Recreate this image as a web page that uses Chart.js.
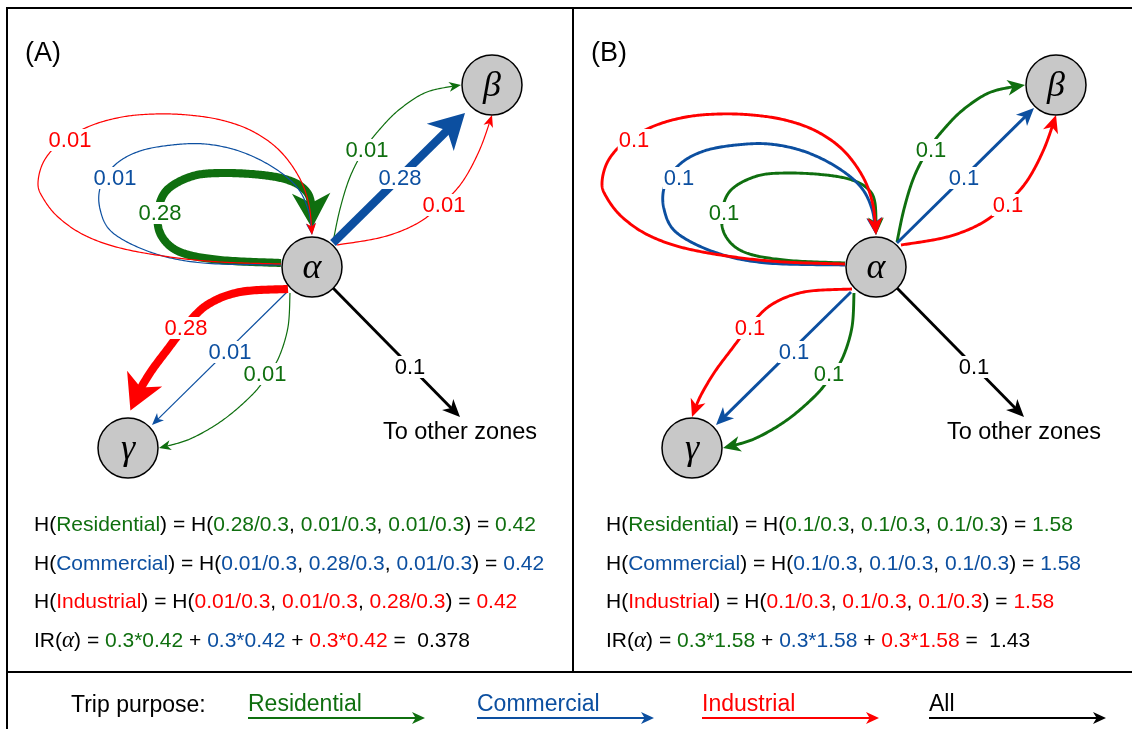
<!DOCTYPE html>
<html>
<head>
<meta charset="utf-8">
<script src="https://cdn.jsdelivr.net/npm/chart.js@4.4.1/dist/chart.umd.min.js"></script>
<style>
  html, body { margin: 0; padding: 0; background: #fff; overflow: hidden; }
  canvas { display: block; }
</style>
</head>
<body>
<canvas id="c" width="1132" height="729"></canvas>
<script>
// ---- data -------------------------------------------------------------
const zones = ['α', 'β', 'γ'];
const purposes = ['Residential', 'Commercial', 'Industrial'];
const panelTitles = ['(A)', '(B)'];

// Trip shares leaving zone α for each purpose, to [α, β, γ]
const residentialA = [0.28, 0.01, 0.01];
const commercialA  = [0.01, 0.28, 0.01];
const industrialA  = [0.01, 0.01, 0.28];
const residentialB = [0.1, 0.1, 0.1];
const commercialB  = [0.1, 0.1, 0.1];
const industrialB  = [0.1, 0.1, 0.1];
// Share of all trips leaving α for zones outside the system
const otherZones = [0.1, 0.1];

const flows = [[residentialA, commercialA, industrialA], [residentialB, commercialB, industrialB]];

// ---- styling / layout ---------------------------------------------------
const purposeColors = ['#0f6f0f', '#0c4fa0', '#ff0000'];
const FONT = '"Liberation Sans", Arial, Helvetica, sans-serif';

// zone centres (α, β, γ) for each panel, in canvas units
const nodeX = [312, 492, 128, 876, 1056, 692];
const nodeY = [267, 85, 448, 267, 85, 448];
const nodeR = 30;

// edge routes, relative to the centre of α; index: destination zone, then purpose
const routes = [
  [ // α -> α
    [[-31,-4],[-92,-7],[-132,-15],[-151,-32],[-154,-55],[-145,-77],[-119,-91],[-88,-94],[-50,-92],[-24,-87],[-8,-78],[-1,-64],[0,-32]],
    [[-31,-2],[-109,-4],[-159,-14],[-199,-34],[-212,-58],[-211,-82],[-196,-103],[-172,-116],[-140,-122],[-107,-123],[-73,-116],[-41,-101],[-16,-81],[-4,-58],[0,-32]],
    [[-31,-3],[-92,-5],[-142,-10],[-192,-19],[-228,-32],[-254,-50],[-269,-69],[-274,-84],[-268,-106],[-251,-125],[-222,-141],[-190,-150],[-157,-153],[-124,-152],[-91,-147],[-60,-136],[-33,-117],[-13,-90],[-3,-62],[0,-32]]
  ],
  [ // α -> β
    [[21,-25],[28,-58],[38,-90],[52,-117],[68,-138],[88,-158],[115,-175],[149,-182]],
    [[21,-24],[158,-159]],
    [[25,-22],[71,-30],[106,-44],[131,-64],[151,-86],[168,-118],[180,-152]]
  ],
  [ // α -> γ
    [[-22,26],[-24,60],[-33,90],[-45,109],[-60,128],[-89,153],[-122,172],[-153,181]],
    [[-25,25],[-160,158]],
    [[-24,22],[-72,25],[-105,38],[-127,60],[-145,83],[-162,106],[-176,130],[-184,150]]
  ]
];
// value label anchors, same indexing
const labelPos = [
  [[-152,-54], [-197,-89], [-242,-127]],
  [[55,-117], [88,-89], [132,-62]],
  [[-47,107], [-82,85], [-126,61]]
];
const otherRoute = [[21,21],[148,150]];
const otherLabel = [98,100];
const otherText = [148,166];

const formulaX = [34, 606];
const formulaY = [531, 570, 608, 647];
const legendX = [248, 477, 702, 929];

// ---- helpers -------------------------------------------------------------
const fmt = v => String(+v.toFixed(2));
const sum = a => a.reduce((s, v) => s + v, 0);
const entropy = row => { const s = sum(row); return -row.reduce((h, v) => h + (v / s) * Math.log2(v / s), 0); };
const widthFor = v => Math.max(1.2, 29 * v);

function sampleSpline(pts, n) {
  const out = [];
  if (pts.length === 2) return pts.slice();
  for (let i = 0; i < pts.length - 1; i++) {
    const p0 = pts[i - 1] || pts[i], p1 = pts[i], p2 = pts[i + 1], p3 = pts[i + 2] || pts[i + 1];
    for (let s = 0; s < n; s++) {
      const t = s / n, t2 = t * t, t3 = t2 * t;
      out.push([0, 1].map(k => 0.5 * (2 * p1[k] + (-p0[k] + p2[k]) * t +
        (2 * p0[k] - 5 * p1[k] + 4 * p2[k] - p3[k]) * t2 +
        (-p0[k] + 3 * p1[k] - 3 * p2[k] + p3[k]) * t3)));
    }
  }
  out.push(pts[pts.length - 1]);
  return out;
}
function trimEnd(poly, d) {
  const p = poly.slice();
  while (p.length > 1) {
    const a = p[p.length - 2], b = p[p.length - 1];
    const L = Math.hypot(b[0] - a[0], b[1] - a[1]);
    if (L >= d) {
      const r = (L - d) / L;
      p[p.length - 1] = [a[0] + (b[0] - a[0]) * r, a[1] + (b[1] - a[1]) * r];
      return p;
    }
    d -= L; p.pop();
  }
  return p;
}
function arrowHead(ctx, tip, from, len, wid, color) {
  let ux = tip[0] - from[0], uy = tip[1] - from[1];
  const m = Math.hypot(ux, uy) || 1; ux /= m; uy /= m;
  const nx = -uy, ny = ux;
  const bx = tip[0] - ux * len, by = tip[1] - uy * len;
  ctx.beginPath();
  ctx.moveTo(tip[0], tip[1]);
  ctx.lineTo(bx + nx * wid / 2, by + ny * wid / 2);
  ctx.lineTo(tip[0] - ux * len * 0.72, tip[1] - uy * len * 0.72);
  ctx.lineTo(bx - nx * wid / 2, by - ny * wid / 2);
  ctx.closePath();
  ctx.fillStyle = color;
  ctx.fill();
}
function drawEdge(ctx, pts, w, color) {
  const len = 8 + 3.3 * w, wid = len * (0.78 + 0.04 * w);
  const gap = w > 4 ? 7 : 0;
  const poly = trimEnd(sampleSpline(pts, 24), gap);
  const tip = poly[poly.length - 1];
  const backPoly = trimEnd(poly, len * 0.6);
  const back = backPoly[backPoly.length - 1];
  const line = trimEnd(poly, len * 0.7);
  ctx.beginPath();
  line.forEach((q, i) => i ? ctx.lineTo(q[0], q[1]) : ctx.moveTo(q[0], q[1]));
  ctx.strokeStyle = color; ctx.lineWidth = w; ctx.lineCap = 'butt'; ctx.lineJoin = 'round';
  ctx.stroke();
  arrowHead(ctx, tip, back, len, wid, color);
}
function boxedLabel(ctx, text, x, y, color) {
  ctx.font = '22px ' + FONT;
  const tw = ctx.measureText(text).width;
  ctx.fillStyle = '#fff';
  ctx.fillRect(x - tw / 2 - 1, y - 11, tw + 2, 22);
  ctx.fillStyle = color; ctx.textAlign = 'center'; ctx.textBaseline = 'middle';
  ctx.fillText(text, x, y + 1);
}
function segments(ctx, x, y, segs) {
  ctx.textAlign = 'left'; ctx.textBaseline = 'alphabetic';
  segs.forEach(([t, c, f]) => {
    ctx.font = f || ('21px ' + FONT);
    ctx.fillStyle = c;
    ctx.fillText(t, x, y);
    x += ctx.measureText(t).width;
  });
}

// ---- chart ------------------------------------------------------------
const nodePoints = nodeX.map((x, i) => ({ x, y: nodeY[i] }));

const diagram = {
  id: 'diagram',
  beforeDatasetsDraw(chart) {
    const { ctx, scales: { x, y } } = chart;
    ctx.save();
    panelTitles.forEach((title, p) => {
      const ox = nodeX[p * 3], oy = nodeY[p * 3];
      const toPx = ([dx, dy]) => [x.getPixelForValue(ox + dx), y.getPixelForValue(oy + dy)];
      drawEdge(ctx, otherRoute.map(toPx), widthFor(otherZones[p]), '#000');
      for (let d = 0; d < 3; d++) {
        for (let k = 0; k < 3; k++) {
          drawEdge(ctx, routes[d][k].map(toPx), widthFor(flows[p][k][d]), purposeColors[k]);
        }
      }
      for (let d = 0; d < 3; d++) {
        for (let k = 0; k < 3; k++) {
          const [lx, ly] = toPx(labelPos[d][k]);
          boxedLabel(ctx, fmt(flows[p][k][d]), lx, ly, purposeColors[k]);
        }
      }
      const [bx, by] = toPx(otherLabel);
      boxedLabel(ctx, fmt(otherZones[p]), bx, by, '#000');
      const [tx, ty] = toPx(otherText);
      ctx.font = '23.5px ' + FONT; ctx.fillStyle = '#000';
      ctx.textAlign = 'center'; ctx.textBaseline = 'middle';
      ctx.fillText('To other zones', tx, ty);
    });
    ctx.restore();
  },
  afterDatasetsDraw(chart) {
    const { ctx, scales: { x, y } } = chart;
    ctx.save();
    ctx.fillStyle = '#000'; ctx.textAlign = 'center'; ctx.textBaseline = 'middle';
    ctx.font = 'italic 36px "Liberation Serif", "DejaVu Serif", serif';
    nodeX.forEach((nx, i) => {
      ctx.fillText(zones[i % 3], x.getPixelForValue(nx), y.getPixelForValue(nodeY[i]) + 2);
    });
    ctx.restore();
  },
  afterDraw(chart) {
    const { ctx } = chart;
    ctx.save();
    // frame
    ctx.strokeStyle = '#000'; ctx.lineWidth = 2;
    ctx.beginPath();
    ctx.moveTo(7, 729); ctx.lineTo(7, 8); ctx.lineTo(1132, 8);
    ctx.moveTo(573, 8); ctx.lineTo(573, 672);
    ctx.moveTo(7, 672); ctx.lineTo(1132, 672);
    ctx.stroke();

    // panel titles
    ctx.fillStyle = '#000'; ctx.textAlign = 'left'; ctx.textBaseline = 'middle';
    ctx.font = '27px ' + FONT;
    ctx.fillText(panelTitles[0], 25, 54);
    ctx.fillText(panelTitles[1], 591, 54);

    // entropy formulas
    panelTitles.forEach((t, p) => {
      const total = sum(flows[p].map(sum)) + otherZones[p];
      let ir = 0;
      const irSegs = [['IR(', '#000'], ['α', '#000', 'italic 23px "Liberation Serif", serif'], [') = ', '#000']];
      flows[p].forEach((row, k) => {
        const s = sum(row), h = entropy(row), c = purposeColors[k];
        ir += (s / total) * h;
        const segs = [['H(', '#000'], [purposes[k], c], [') = H(', '#000']];
        row.forEach((v, j) => {
          if (j) segs.push([', ', '#000']);
          segs.push([fmt(v) + '/' + fmt(s), c]);
        });
        segs.push([') = ', '#000'], [h.toFixed(2), c]);
        segments(ctx, formulaX[p], formulaY[k], segs);
        if (k) irSegs.push([' + ', '#000']);
        irSegs.push([fmt(s / total) + '*' + h.toFixed(2), c]);
      });
      irSegs.push([' =  ' + ir.toPrecision(3), '#000']);
      segments(ctx, formulaX[p], formulaY[3], irSegs);
    });

    // legend
    ctx.font = '23px ' + FONT; ctx.textAlign = 'left'; ctx.textBaseline = 'alphabetic';
    ctx.fillStyle = '#000';
    ctx.fillText('Trip purpose:', 71, 712);
    const names = purposes.concat(['All']);
    const cols = purposeColors.concat(['#000']);
    names.forEach((n, i) => {
      ctx.fillStyle = cols[i];
      ctx.fillText(n, legendX[i], 711);
      const x0 = legendX[i], x1 = legendX[i] + 177, yy = 718;
      ctx.beginPath(); ctx.moveTo(x0, yy); ctx.lineTo(x1 - 9, yy);
      ctx.strokeStyle = cols[i]; ctx.lineWidth = 2; ctx.stroke();
      arrowHead(ctx, [x1, yy], [x0, yy], 13, 12, cols[i]);
    });
    ctx.restore();
  }
};

new Chart(document.getElementById('c'), {
  type: 'scatter',
  data: {
    datasets: [{
      data: nodePoints,
      pointRadius: nodeR,
      pointHoverRadius: nodeR,
      backgroundColor: '#c8c8c8',
      borderColor: '#000',
      borderWidth: 1.5
    }]
  },
  options: {
    responsive: false,
    animation: false,
    events: [],
    layout: { padding: 0, autoPadding: false },
    plugins: { legend: { display: false }, tooltip: { enabled: false } },
    scales: {
      x: { type: 'linear', min: 0, max: 1132, display: false },
      y: { type: 'linear', min: 0, max: 729, reverse: true, display: false }
    }
  },
  plugins: [diagram]
});
</script>
</body>
</html>
